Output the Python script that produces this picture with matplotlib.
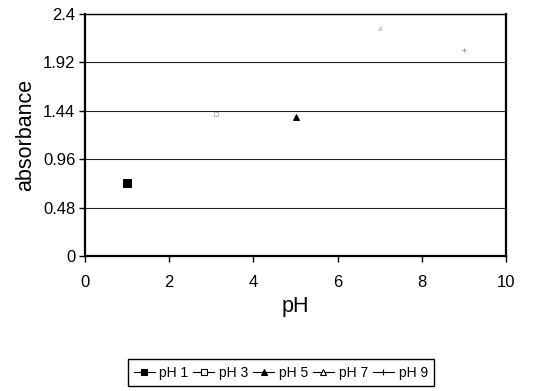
import matplotlib
matplotlib.use('Agg')
import matplotlib.pyplot as plt

plt.rcParams['font.family'] = ['Liberation Sans', 'DejaVu Sans']

# 데이터: pH별 흡광도
labels = ['pH 1', 'pH 3', 'pH 5', 'pH 7', 'pH 9']
ph_x = [1, 3.1, 5, 7, 9]
absorb = [0.72, 1.41, 1.38, 2.26, 2.04]
markers = ['s', 's', '^', '^', '+']
filled = [True, False, True, False, False]
sizes = [6, 2.5, 5, 2.5, 3]
colors = ['black', '#bbbbbb', 'black', '#bbbbbb', '#999999']

fig = plt.figure(figsize=(5.43, 3.91), dpi=100)
ax = fig.add_axes([85 / 543, 1 - 256 / 391, 421 / 543, 242 / 391])

for lab, x, y, m, f, s, c in zip(labels, ph_x, absorb, markers, filled, sizes, colors):
    ax.plot([x], [y], marker=m, markersize=s, linestyle='none',
            color=c, markerfacecolor=c if f else 'white', markeredgewidth=0.7)

ax.set_xlim(0, 10)
ax.set_ylim(0, 2.4)
ax.set_xticks([0, 2, 4, 6, 8, 10])
ax.set_yticks([0, 0.48, 0.96, 1.44, 1.92, 2.4])
ax.set_yticklabels(['0', '0.48', '0.96', '1.44', '1.92', '2.4'])
ax.tick_params(labelsize=12, direction='out', length=4, width=1, colors='black')
ax.tick_params(axis='x', pad=10)
ax.tick_params(axis='y', pad=3)
ax.yaxis.grid(True, color='#222222', linewidth=0.8)
ax.set_axisbelow(True)
for sp in ax.spines.values():
    sp.set_linewidth(1.6)
ax.spines['top'].set_linewidth(1.0)
ax.set_xlabel('pH', fontsize=15.5, labelpad=4)
ax.set_ylabel('absorbance', fontsize=15.5, labelpad=4.5)

# 범례용 핸들 (선 + 마커)
handles = []
for lab, m, f in zip(labels, markers, filled):
    h, = ax.plot([], [], marker=m, markersize=5, linestyle='-', linewidth=0.8,
                 color='black', markerfacecolor='black' if f else 'white',
                 markeredgewidth=0.8, label=lab)
    handles.append(h)

fig.legend(handles=handles, loc='center', bbox_to_anchor=(0.517, 0.047),
           ncol=5, fontsize=10, frameon=True, fancybox=False, edgecolor='black',
           handlelength=1.5, handletextpad=0.35, columnspacing=0.35,
           borderpad=0.45, borderaxespad=0, framealpha=1)

fig.savefig('out.png', dpi=100)
